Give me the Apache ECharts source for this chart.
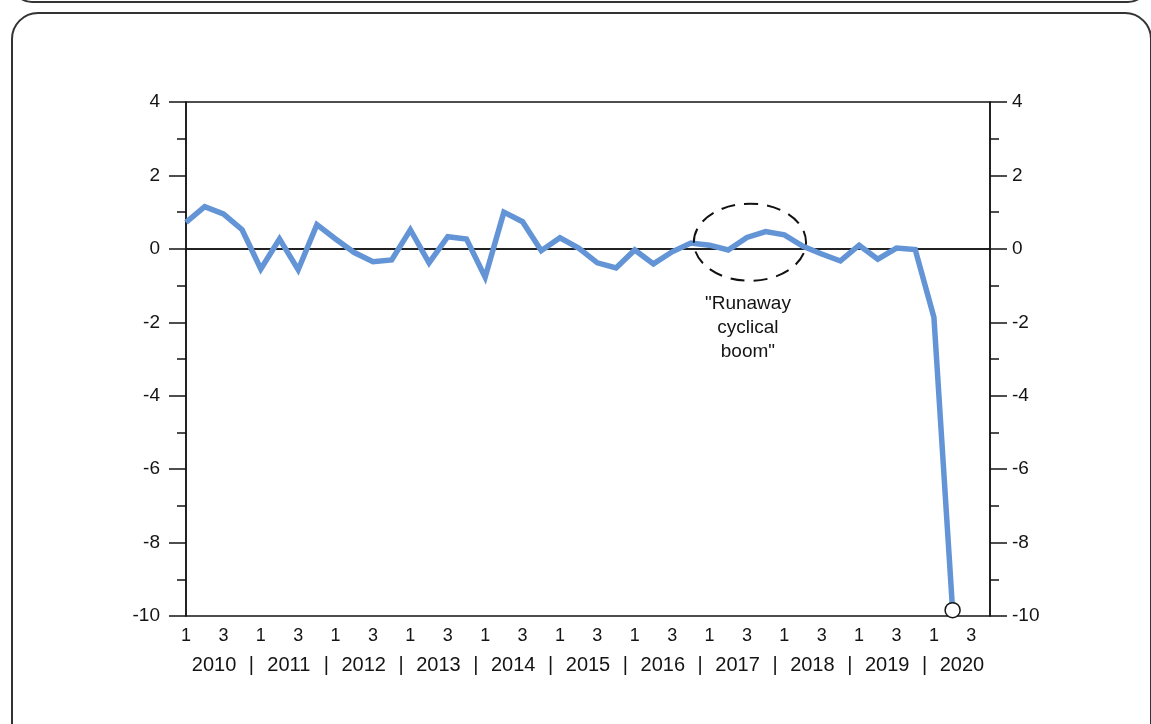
<!DOCTYPE html>
<html>
<head>
<meta charset="utf-8">
<script src="https://cdn.jsdelivr.net/npm/echarts@6/dist/echarts.min.js"></script>
<style>
html,body{margin:0;padding:0;background:#fff;}
#chart{width:1151px;height:724px;}
</style>
</head>
<body>
<div id="chart"></div>
<script>
// ---- data ----
const years = ['2010','2011','2012','2013','2014','2015','2016','2017','2018','2019','2020'];
const quarterTickLabels = ['1', '', '3', ''];
const categories = [];
years.forEach(y => { for (let q = 1; q <= 4; q++) categories.push(y + 'Q' + q); });
const values = [
  0.72, 1.15, 0.95, 0.52,      // 2010
  -0.55, 0.27, -0.57, 0.66,    // 2011
  0.27, -0.10, -0.35, -0.30,   // 2012
  0.52, -0.38, 0.33, 0.27,     // 2013
  -0.77, 1.00, 0.74, -0.05,    // 2014
  0.30, 0.02, -0.38, -0.52,    // 2015
  -0.03, -0.41, -0.08, 0.16,   // 2016
  0.10, -0.03, 0.31, 0.47,     // 2017
  0.38, 0.07, -0.14, -0.33,    // 2018
  0.10, -0.28, 0.02, -0.02,    // 2019
  -1.86, -9.84                 // 2020
];
const yTicks = { min: -10, max: 4, interval: 2 };
const annotationText = '"Runaway\ncyclical\nboom"';
const annotationCenter = { category: '2017Q3', value: 0.18 };

// ---- chart ----
const chart = echarts.init(document.getElementById('chart'), null, { renderer: 'canvas' });
const FONT = '"Liberation Sans", Arial, Helvetica, sans-serif';
const INK = '#141414';
const LINE = '#6394d6';
const lastIdx = values.length - 1;

// year label positions (centres) and separators between years
const yearLabelPos = [];
years.forEach((y, i) => {
  yearLabelPos.push(i * 4 + 1.5);
  if (i < years.length - 1) yearLabelPos.push(i * 4 + 3.5);
});

const yAxisCommon = {
  type: 'value',
  min: yTicks.min, max: yTicks.max, interval: yTicks.interval,
  axisLine: { show: true, lineStyle: { color: INK, width: 1.5 } },
  axisTick: { show: true, inside: false, length: 17, lineStyle: { color: INK, width: 1.5 } },
  minorTick: { show: true, splitNumber: 2, length: 9, lineStyle: { color: INK, width: 1.5 } },
  splitLine: { show: false },
  axisLabel: { color: INK, fontSize: 19, fontFamily: FONT }
};

chart.setOption({
  animation: false,
  backgroundColor: '#fff',
  grid: { left: 186, right: 161, top: 102, bottom: 108, show: true, borderColor: INK, borderWidth: 1.5, backgroundColor: 'transparent' },
  xAxis: [{
    type: 'category',
    data: categories,
    boundaryGap: false,
    axisLine: { show: true, lineStyle: { color: INK, width: 1.5 } },
    axisTick: { show: false },
    splitLine: { show: false },
    axisLabel: {
      interval: 0, margin: 11, color: INK, fontSize: 18, fontFamily: FONT,
      formatter: (v, i) => quarterTickLabels[i % 4]
    }
  }, {
    type: 'value',
    position: 'bottom',
    min: 0, max: categories.length - 1,
    offset: 28,
    axisLine: { show: false },
    axisTick: { show: false },
    splitLine: { show: false },
    axisLabel: {
      customValues: yearLabelPos,
      margin: 11, color: INK, fontSize: 20, fontFamily: FONT,
      showMinLabel: true, showMaxLabel: true, hideOverlap: false,
      formatter: (v) => {
        const k = (v - 1.5) / 4;
        if (Math.abs(k - Math.round(k)) < 1e-6) return years[Math.round(k)];
        return '|';
      }
    }
  }],
  yAxis: [
    Object.assign({}, yAxisCommon, { position: 'left', axisLabel: Object.assign({}, yAxisCommon.axisLabel, { margin: 26 }) }),
    Object.assign({}, yAxisCommon, { position: 'right', axisLabel: Object.assign({}, yAxisCommon.axisLabel, { margin: 22 }) })
  ],
  series: [{
    type: 'line',
    xAxisIndex: 0,
    yAxisIndex: 0,
    data: values,
    symbol: 'circle',
    showAllSymbol: true,
    symbolSize: (v, p) => (p.dataIndex === lastIdx ? 15 : 0),
    itemStyle: { color: '#fff', borderColor: INK, borderWidth: 1.5 },
    lineStyle: { color: LINE, width: 5.5, join: 'miter' },
    z: 3,
    markLine: {
      silent: true,
      symbol: 'none',
      label: { show: false },
      lineStyle: { color: INK, width: 1.5, type: 'solid' },
      data: [{ yAxis: 0 }],
      z: 1
    }
  }]
});

function drawGraphics() {
  const c = chart.convertToPixel({ xAxisIndex: 0, yAxisIndex: 0 }, [annotationCenter.category, annotationCenter.value]);
  const catIdx = categories.indexOf(annotationCenter.category);
  const pA = chart.convertToPixel({ xAxisIndex: 0, yAxisIndex: 0 }, [categories[catIdx + 3], annotationCenter.value + 1.05]);
  const rx = (pA[0] - c[0]) * 1.0;
  const ry = c[1] - pA[1];
  const t = chart.convertToPixel({ xAxisIndex: 0, yAxisIndex: 0 }, [annotationCenter.category, -2.16]);
  chart.setOption({
    graphic: [
      { type: 'rect', silent: true, z: 0, shape: { x: 12, y: -100, width: 1136, height: 102, r: 20 }, style: { fill: 'none', stroke: '#333', lineWidth: 2 } },
      { type: 'rect', silent: true, z: 0, shape: { x: 12, y: 13, width: 1139, height: 800, r: 26 }, style: { fill: 'none', stroke: '#333', lineWidth: 2 } },
      { type: 'ellipse', silent: true, z: 10, shape: { cx: c[0] + 3, cy: c[1], rx: rx, ry: ry }, style: { fill: 'none', stroke: '#111', lineWidth: 2, lineDash: [14, 9] } },
      { type: 'text', silent: true, z: 10, x: t[0] + 1, y: t[1], style: { text: annotationText, fill: INK, font: '19px ' + FONT, align: 'center', verticalAlign: 'middle', lineHeight: 24 } }
    ]
  });
}
drawGraphics();
</script>
</body>
</html>
